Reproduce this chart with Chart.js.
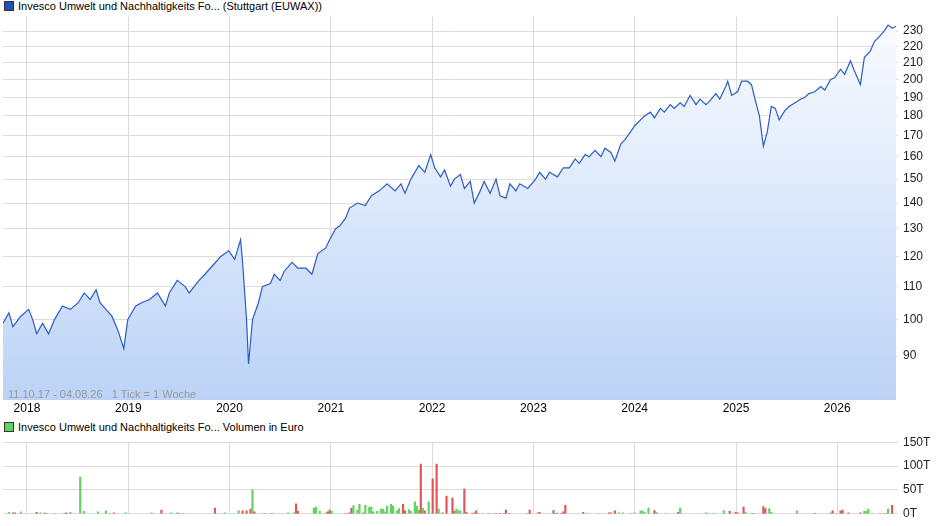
<!DOCTYPE html>
<html><head><meta charset="utf-8">
<script src="https://cdn.jsdelivr.net/npm/chart.js@4"></script>
<style>
body{margin:0;width:940px;height:526px;background:#fff;font-family:"Liberation Sans",Arial,sans-serif;position:relative;overflow:hidden}
.box{position:absolute;left:0;width:940px}
.leg{position:absolute;left:4px;font-size:11px;color:#000;white-space:nowrap}
.leg span{display:inline-block;width:8px;height:8px;border:1px solid #333;margin-right:4px;vertical-align:-1px}
#range{position:absolute;left:8px;top:388px;font-size:11px;color:#999}
</style></head><body>
<div class="leg" style="top:0px"><span style="background:#1f4fbf"></span>Invesco Umwelt und Nachhaltigkeits Fo... (Stuttgart (EUWAX))</div>
<div class="box" style="top:0;height:418px"><canvas id="c1"></canvas></div>
<div id="range">11.10.17 - 04.08.26 &nbsp;&nbsp;1 Tick = 1 Woche</div>
<div class="leg" style="top:421px"><span style="background:#5fd35f"></span>Invesco Umwelt und Nachhaltigkeits Fo... Volumen in Euro</div>
<div class="box" style="top:430px;height:96px"><canvas id="c2"></canvas></div>
<script>
// weeks since 11.10.2017
const priceWeeks=[0,3,5,9,13,15,17,20,23,26,30,34,38,41,44,47,49,52,55,58,61,63,67,70,74,78,82,84,88,92,94,99,102,106,110,114,117,120,121,123,124,126,129,131,135,137,140,142,146,149,153,156,159,163,165,168,170,173,175,179,183,186,190,194,198,201,203,206,210,213,216,218,221,223,226,228,231,233,236,238,241,243,246,249,251,254,256,259,261,265,269,271,274,276,280,283,286,289,291,294,296,299,302,304,307,309,312,314,317,319,322,324,327,329,332,334,337,339,342,344,347,350,352,355,357,360,362,365,366,368,371,373,376,378,380,382,384,386,388,390,392,395,397,400,403,405,407,410,413,415,418,420,423,425,428,430,433,435,438,440,443,445,447,449,451];
const priceValues=[99,102,98,101,103,100,96,99,96,100,104,103,105,108,106,109,105,103,101,97,92,100,104,105,106,108,104,108,112,110,108,112,114,117,120,122,119,126,118,100,88,100,105,110,111,114,112,115,118,116,116,114,121,123,126,130,131,134,138,140,139,143,145,148,145,148,144,150,156,153,161,155,151,154,147,150,152,146,149,140,145,149,144,150,143,142,148,145,148,146,150,153,150,153,151,155,155,159,157,161,160,163,160,164,162,158,166,168,172,175,178,180,182,179,184,182,186,184,187,185,191,186,189,186,188,192,189,196,199,191,193,199,199,197,188,180,165,172,185,184,178,183,185,187,189,190,192,193,196,194,200,201,206,203,211,205,197,213,217,223,227,230,234,232,233];
const volWeeks=[3,5,6,9,17,19,21,22,26,31,32,34,39,41,48,52,54,56,62,75,80,85,88,89,91,107,112,119,121,123,125,126,127,132,135,136,144,147,148,149,157,158,160,163,164,165,166,173,175,176,177,179,180,182,183,185,186,187,189,191,192,193,194,196,197,199,200,202,203,205,206,208,209,210,211,212,213,215,217,219,220,222,224,227,228,229,230,231,233,234,237,238,239,240,242,245,246,249,251,253,254,256,265,266,270,271,278,279,280,282,283,284,293,295,301,306,307,309,311,313,317,319,322,323,324,326,329,330,335,341,342,355,356,359,364,367,370,371,374,375,378,379,384,385,387,388,401,410,418,419,421,423,424,427,433,435,436,437,439,443,445,446,447,449];
const volValues=[3,2,2,4,3,2,2,1,1,1,2,3,77,5,4,6,1,2,2,2,8,2,2,1,1,12,2,6,6,6,10,50,4,1,1,1,2,2,21,5,12,14,5,2,4,8,5,1,2,12,17,8,20,2,18,14,14,4,5,10,10,4,16,20,16,6,11,20,6,9,5,25,16,8,104,12,6,25,73,104,10,2,37,33,5,10,7,6,52,3,1,2,6,1,1,1,1,1,1,1,8,1,1,8,2,3,7,1,2,1,4,18,3,1,1,2,2,6,2,2,1,2,6,6,3,12,7,3,1,3,12,2,1,1,7,5,3,2,14,3,1,1,15,11,11,3,6,1,2,6,1,6,8,2,2,5,5,10,1,1,1,1,10,18];
const volUp=[1,0,0,1,0,1,1,0,1,0,0,1,1,1,1,1,1,0,1,1,0,1,1,0,1,0,1,1,0,0,0,1,0,0,1,0,1,1,0,0,1,1,1,1,0,0,1,0,0,0,1,1,1,0,1,1,1,1,1,1,1,1,1,1,1,1,1,0,0,1,1,1,1,1,0,1,0,1,0,0,1,0,0,0,0,1,1,1,0,0,0,0,0,1,1,1,1,0,0,0,0,0,0,0,1,0,0,0,1,0,0,0,0,1,1,0,0,0,1,1,1,1,1,1,1,1,0,1,1,0,1,1,1,1,1,0,0,0,0,1,1,0,0,0,1,1,1,0,1,0,1,0,0,0,0,1,1,1,1,1,1,1,1,0];
const yTicks=[90,100,110,120,130,140,150,160,170,180,190,200,210,220,230];
const volTicks=[0,50,100,150];
const years=[2018,2019,2020,2021,2022,2023,2024,2025,2026];
const yearWeeks=[12.1,63.3,114.4,165.6,216.7,267.9,319,370.2,421.3];

const font={family:'"Liberation Sans",Arial,sans-serif',size:12};
const grid='#dcdcdc';
function xScale(show){return{type:'linear',min:0,max:452,offset:false,
  afterBuildTicks:a=>{a.ticks=yearWeeks.map(v=>({value:v}))},
  ticks:{display:show,autoSkip:false,maxRotation:0,padding:1,color:'#000',font,callback:(v,i)=>years[i]},
  grid:{color:grid,drawTicks:false,offset:false},border:{display:false},
  afterFit:a=>{a.height=show?18:0}}}

new Chart(document.getElementById('c1'),{
 type:'line',
 data:{datasets:[{data:priceWeeks.map((w,i)=>({x:w,y:priceValues[i]})),
   borderColor:'#2a5cc6',borderWidth:1.2,pointRadius:0,tension:0,fill:'start',
   backgroundColor:(ctx)=>{const a=ctx.chart.chartArea;if(!a)return '#dde8fb';
     const g=ctx.chart.ctx.createLinearGradient(0,a.top,0,a.bottom);g.addColorStop(0,'#fafcff');g.addColorStop(1,'#bcd3f7');return g;}}]},
 options:{responsive:true,maintainAspectRatio:false,animation:false,
  layout:{padding:{left:3,top:17,right:0,bottom:0}},
  plugins:{legend:{display:false},tooltip:{enabled:false}},
  scales:{x:xScale(true),
   y:{type:'logarithmic',position:'right',min:79.3,max:239.5,
    afterBuildTicks:a=>{a.ticks=yTicks.map(v=>({value:v}))},
    ticks:{color:'#222',font,padding:5,callback:v=>v},
    grid:{color:grid,drawTicks:false},border:{display:false},
    afterFit:a=>{a.width=42}}}}
});

new Chart(document.getElementById('c2'),{
 type:'bar',
 data:{datasets:[{data:volWeeks.map((w,i)=>({x:w,y:volValues[i]})),
   backgroundColor:volUp.map(u=>u?'#5fd35f':'#e05555'),barThickness:1.5,borderWidth:0}]},
 options:{responsive:true,maintainAspectRatio:false,animation:false,
  layout:{padding:{left:3,top:7,right:0,bottom:10}},
  plugins:{legend:{display:false},tooltip:{enabled:false}},
  scales:{x:xScale(false),
   y:{min:0,max:150,position:'right',
    afterBuildTicks:a=>{a.ticks=volTicks.map(v=>({value:v}))},
    ticks:{color:'#222',font,padding:5,callback:v=>v+'T'},
    grid:{color:grid,drawTicks:false},border:{display:false},
    afterFit:a=>{a.width=42}}}}
});
</script></body></html>
